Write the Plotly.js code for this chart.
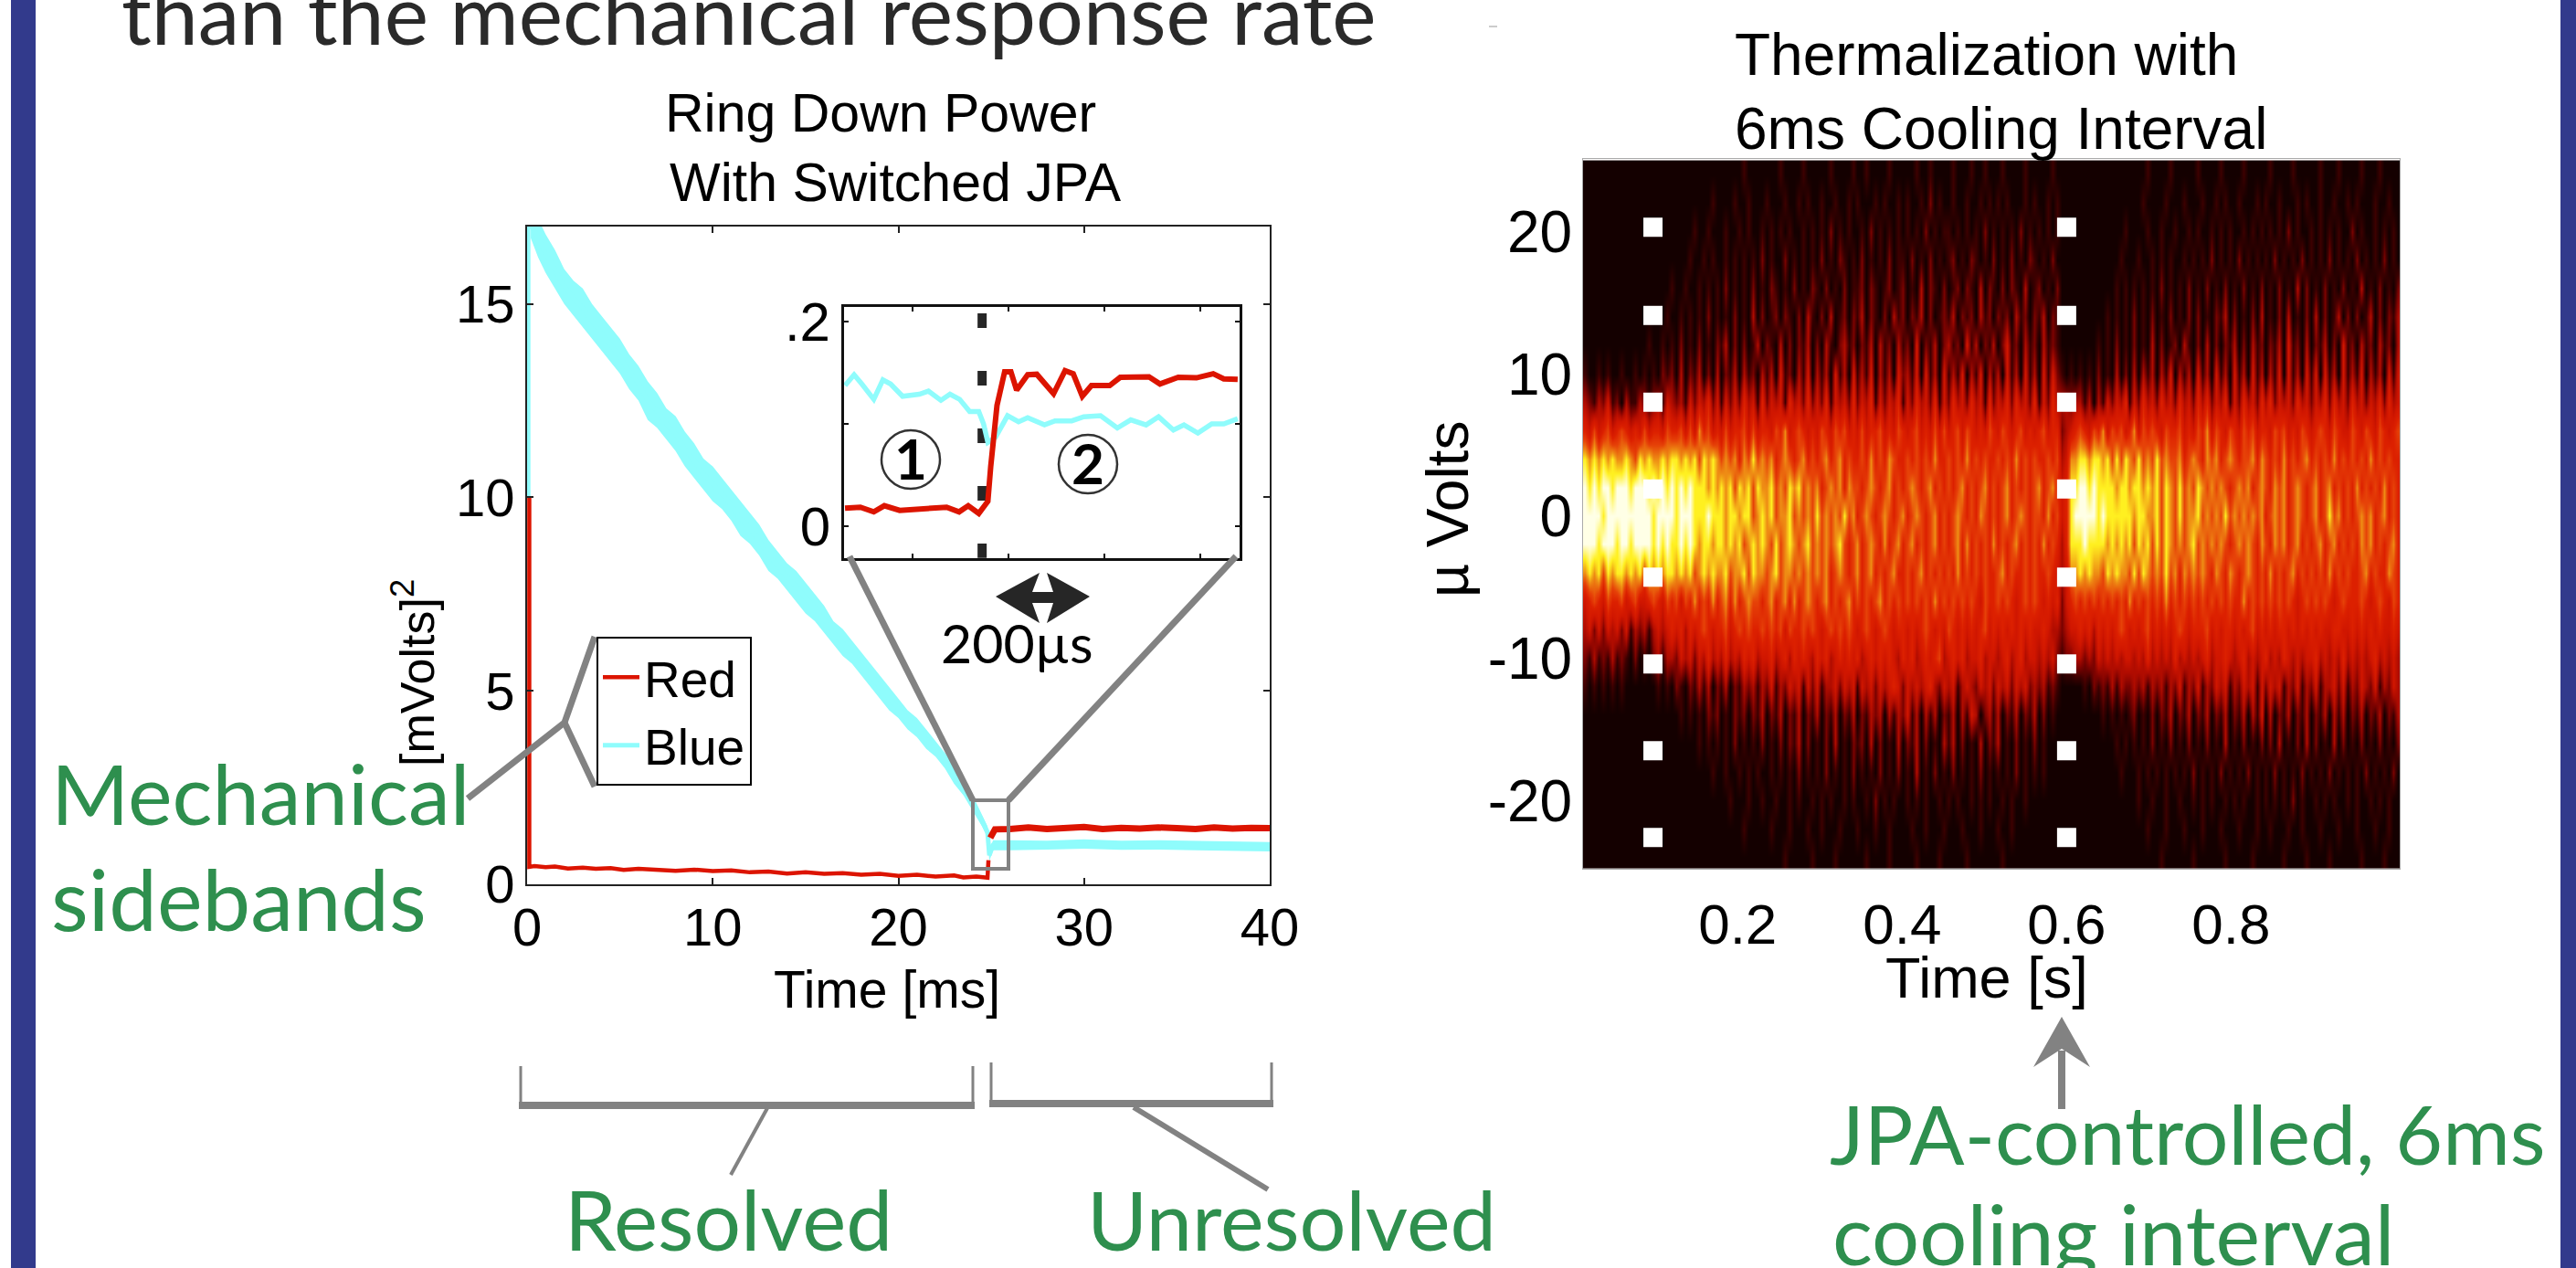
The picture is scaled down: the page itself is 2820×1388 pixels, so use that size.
<!DOCTYPE html>
<html><head><meta charset="utf-8">
<script src="https://cdn.plot.ly/plotly-3.0.1.min.js"></script>
<style>html,body{margin:0;padding:0;background:#fff}</style></head>
<body><div id="g" style="width:2820px;height:1388px"></div>
<script>
// ---- Ring-down main panel ----
const blueT=[0.2,0.6,1,1.5,2,2.5,3,3.5,4,4.5,5,5.5,6,6.5,7,7.5,8,8.5,9,9.5,10,10.5,11,11.5,12,12.5,13,13.5,14,14.5,15,15.5,16,16.5,17,17.5,18,18.5,19,19.5,20,20.5,21,21.5,22,22.5,23,23.5,24,24.5,24.8,24.9,25.1,26,28,30,32,34,36,38,40];
const blueLow=[16.7,16.2,15.8,15.4,15,14.7,14.4,14.1,13.8,13.5,13.2,12.8,12.5,12,11.8,11.5,11.2,10.8,10.5,10.2,9.9,9.7,9.4,9,8.8,8.5,8.1,7.9,7.6,7.3,7,6.8,6.5,6.2,5.9,5.7,5.4,5.1,4.8,4.5,4.3,4,3.8,3.5,3.3,3,2.6,2.3,1.9,1.5,1.2,0.6,0.88,0.88,0.9,0.92,0.89,0.9,0.88,0.87,0.85];
const blueHigh=[17.4,17.2,16.8,16.4,15.9,15.6,15.4,15,14.7,14.4,14.1,13.7,13.4,13,12.7,12.3,12.1,11.7,11.4,11,10.8,10.5,10.2,9.9,9.6,9.3,8.9,8.6,8.3,8.1,7.8,7.5,7.2,6.8,6.6,6.3,6,5.7,5.4,5.1,4.8,4.5,4.3,4,3.7,3.4,3.1,2.7,2.3,1.8,1.5,0.9,1.14,1.14,1.13,1.16,1.13,1.14,1.12,1.1,1.09];
const blueSpikeT=[0.06,0.06,0.3];
const blueSpikeV=[10,17,17];
const redT=[0.12,0.12,0.4,1,1.5,2.2,3,3.7,4.5,5.2,6,7,8,9,10,11,12,13,14,15,16,17,18,19,20,21,22,23,23.5,24.2,24.8,24.85];
const redV=[10,0.45,0.47,0.44,0.46,0.41,0.43,0.4,0.42,0.37,0.4,0.38,0.35,0.38,0.34,0.36,0.31,0.33,0.28,0.31,0.27,0.29,0.25,0.27,0.22,0.25,0.2,0.23,0.18,0.2,0.17,0.62];
const redLateT=[24.95,25.2,26,27,28,29,30,31,32,33,34,35,36,37,38,39,40];
const redLateV=[1.2,1.42,1.43,1.47,1.43,1.45,1.48,1.43,1.46,1.44,1.47,1.45,1.43,1.47,1.44,1.46,1.45];
const xTicksMain=[0,10,20,30,40];
const yTicksMain=[0,5,10,15];
// ---- Inset (time in microseconds across the inset) ----
const inBlueT=[2,21,37,62,81,97,122,157,176,202,221,241,262,281,291,300,316,329,341,364,383,418,440,475,500,535,570,598,630,656,687,709,738,767,792,821];
const inBlueV=[.1375,.148,.139,.124,.143,.139,.127,.129,.132,.123,.129,.124,.112,.112,.100,.082,.087,.097,.108,.102,.106,.099,.103,.103,.107,.108,.096,.104,.099,.107,.094,.099,.091,.100,.100,.105];
const inRedT=[2,34,62,84,116,157,214,240,259,281,300,306,313,319,335,348,360,383,402,437,461,478,497,516,554,576,636,659,697,735,770,792,821];
const inRedV=[.0176,.0185,.014,.020,.0155,.0164,.0185,.014,.020,.0125,.0244,.0586,.0884,.118,.151,.151,.133,.148,.1485,.1295,.152,.149,.127,.1375,.1375,.1455,.146,.139,.1455,.145,.149,.144,.1435];
const inSwitchT=[288,288];
const inSwitchV=[.208,-.031];
const inTickX=[143,343,543,743];
const inTickY=[0,.2];
const inTickText=['0','.2'];
const inMinorY=[.1];
// ---- Thermalization map: colour level 0-9 per time column, rows from +24 to -24 uV ----
const heatY=[24,22,20,18,16,14,12,10,8,6,4,2,0,-2,-4,-6,-8,-10,-12,-14,-16,-18,-20,-22,-24];
const heatRows=[
"0000000000 0000000000 0000000000 0000010000 0001000010 0000100001 0010000100 0001001000 0100010010 0010000100 0001000000 0000000000 0000100001 0000010000 1000010000 0100001000 0010001000 0100010000",
"0000000000 0000000000 0000000010 0001001000 1000100101 0010010010 1000101001 0100102010 0100100101 0101000101 0010100000 0000000000 0001000010 0010001001 0100100010 1001000101 0010010010 1000100100",
"0000000000 0000000000 0000100100 0100101001 0101010010 1010201010 0102010101 0101020101 1010101020 1010102010 1010100000 0000000001 0000100100 1001010010 1010010101 0101020100 1010101002 0100101010",
"0000000000 0000000000 0001001010 0101010102 0100201010 1020102101 0201010201 1020102010 1201021010 2010201021 0102000000 0000000010 0010010101 0010101020 1010201010 1020101020 1010201010 2010102010",
"0000000000 0000000001 0010010101 0201010201 0210102010 2102010201 1202101201 2010302102 0120210302 1020210301 2010200000 0000000101 0101010201 0102010201 0201020102 0102010302 0102010201 0301020102",
"0000000000 0000000010 0101010201 0102010302 0120210203 1020301202 1302102031 2021302012 1302120312 0212031202 1302100000 0000010101 0201020102 0102020102 1302010203 0102030102 0302013020 2013020213",
"0000000000 0000100101 0201020102 1302020130 2103020213 0203102312 0213031203 1204021302 3120413021 3024120312 0312100000 0001010201 0201030201 2031020302 0213020312 0213041203 0213020412 0312031203",
"1001010010 0101010212 0302130203 0213031203 1304120314 0313041304 1314031304 2314041304 1314031403 1304130413 0414210101 0102010302 0303130314 0313041304 1304130413 0314041304 1404130413 1403130414",
"3213241203 1132123143 2314243524 1424253415 2434153425 2425143425 2435142435 1425342514 2534253415 2435253425 1425333233 1303142435 1425342534 2534253524 3514253425 3524342534 2435253425 3424352534",
"5464564565 4546455465 5646475645 4645564645 5465745654 5465465645 4645564546 5456454646 4564654546 5465456454 5645523456 5465746564 5746565465 5645465746 5465465645 5465645465 4565465446 5465465456",
"8787878778 7687877878 8787868787 6767576867 6756765675 6567567565 5657565765 5656565755 6565756565 5656575656 5565634778 8788786868 7686768676 6756765767 5676566757 6565756567 5656575656 5657565655",
"9898998999 8999898989 8989888787 8786878687 7867687867 6756767576 6567656756 5676567565 6567565675 6567565656 7567545889 9898888788 7887878687 6867687676 7656767567 6576756765 6756756565 7565657565",
"9999899999 9999989999 8999888988 8788788678 7867786767 6867676867 5676567656 7567656756 5676565765 6567567656 6575645899 9998988888 8788778687 6867786767 6867676767 5676756765 6756867565 6767567565",
"9998999899 8999989898 8989878878 8787867878 7686787678 6767678656 7567657567 5675656756 5675756565 7565675656 5756535888 9888878787 8687868687 6767867676 7656767657 6576756756 5675675656 5767565675",
"7878687887 8786878788 7878678787 7867786877 6786776767 6767567656 7567565675 5656756565 6575656565 5675655656 5565434778 7877687877 6868767686 7576767657 6576567656 5756567565 6565756565 5675655765",
"4565465564 5644565465 6465756575 6757567665 6756757567 6567565675 6565675656 5656565756 5656565465 5656545656 5454524565 6565656565 7565656575 6565656565 6565575656 5656565456 5656545655 5654565465",
"3424243424 1323134345 4535456545 5645656556 5656465565 6545656565 4565456545 5454565454 6545454564 5454545454 4543323445 4535454565 4545645454 5654555645 4554545645 4545545454 5454455445 4545454454",
"2131213121 0201023133 2434243534 3534354534 4534535454 3545345454 5345454543 5453454563 4545344534 4345345344 3434212233 2324343434 4343534343 5343434534 4543453434 5343543434 4534343534 3434534343",
"1010101010 0000001010 2102131302 1302132313 2413243414 2413342434 1434243454 2434345324 3413432434 2434243423 2312100000 1021213132 2323132313 2413241324 3413243414 2434132413 2413342413 2432413243",
"0000000000 0000000000 0101010212 0102120213 0213021302 1302130213 0213230313 2413031302 1303143023 1302130213 0201000000 0000101010 1201020213 0213021302 1302130314 0302130213 0213031302 1302130213",
"0000000000 0000000000 0000010101 0102010102 0102021302 0102030102 1203020103 0213020103 1302010302 1301020102 0100000000 0000000101 0101020102 0102010201 0301020102 0203010203 0201030201 0201020102",
"0000000000 0000000000 0000000010 0100101010 0101010201 0102010102 0101020102 0103010201 0201010201 0101020101 0100000000 0000000010 0010101010 1010201010 2010102010 1020101020 1010201010 1020101020",
"0000000000 0000000000 0000000000 0010001001 0010010100 1010100101 0010201010 0101010010 1010010101 0010100100 0000000000 0000000000 0010010010 0100101010 0101010010 1010102010 0101010010 1001010100",
"0000000000 0000000000 0000000000 0000010000 0100010001 0010001000 1000100100 0010010001 0001000100 0100100000 0000000000 0000000000 0000100010 0010001000 1000100010 0100010010 0010001000 1000100100",
"0000000000 0000000000 0000000000 0000000000 0000100000 1000010000 0010000100 0001000010 0000100000 0010000000 0000000000 0000000000 0000000100 0000100000 0100000100 0000100001 0000100000 0100001000"];
const heatT0=0.012, heatDT=0.0055167;
const markerT=[0.097,0.6];
const markerV=[20.3,14.1,8,1.9,-4.3,-10.4,-16.5,-22.6];
const heatTickX=[0.2,0.4,0.6,0.8];
const heatTickY=[-20,-10,0,10,20];
const heatTickText=['-20','-10','0','10','20'];

const W=2820,H=1388,X=p=>p/W,Y=p=>1-p/H;
const GREEN='#2e8f4e',GRAY='#828282',SANS='"Liberation Sans",Arial,sans-serif',HUM='Lato,"Open Sans",sans-serif';
const z=heatRows.map(r=>r.replace(/ /g,'').split('').map(Number));
const heatX=z[0].map((_,i)=>heatT0+heatDT*(i+.5));
const mx=[],my=[];markerT.forEach(t=>markerV.forEach(v=>{mx.push(t);my.push(v)}));
const mid=blueLow.map((l,i)=>(l+blueHigh[i])/2);

const traces=[
 {x:blueT,y:blueLow,mode:'lines',line:{width:0,color:'#8ffcfc'},showlegend:false,hoverinfo:'skip'},
 {x:blueT,y:blueHigh,mode:'lines',line:{width:0,color:'#8ffcfc'},fill:'tonexty',fillcolor:'#8ffcfc',showlegend:false,hoverinfo:'skip'},
 {x:blueSpikeT.concat(blueT),y:blueSpikeV.concat(mid),mode:'lines',name:'Blue',line:{width:5,color:'#8ffcfc'}},
 {x:redLateT,y:redLateV,mode:'lines',line:{width:7,color:'#dc1400'},showlegend:false},
 {x:redT,y:redV,mode:'lines',name:'Red',line:{width:4.5,color:'#dc1400'}},
 {x:inSwitchT,y:inSwitchV,xaxis:'x2',yaxis:'y2',mode:'lines',line:{width:10,color:'#262626',dash:'16px,47px'},showlegend:false},
 {x:inBlueT,y:inBlueV,xaxis:'x2',yaxis:'y2',mode:'lines',line:{width:5.5,color:'#8ffcfc'},showlegend:false},
 {x:inRedT,y:inRedV,xaxis:'x2',yaxis:'y2',mode:'lines',line:{width:6,color:'#dc1400'},showlegend:false},
 {type:'heatmap',x:heatX,y:heatY,z:z,xaxis:'x3',yaxis:'y3',zmin:0,zmax:9,zsmooth:'best',showscale:false,
  colorscale:[[0,'#140000'],[.111,'#3c0000'],[.222,'#7a0200'],[.333,'#b00c00'],[.444,'#d01600'],[.556,'#dc2000'],[.667,'#e64208'],[.778,'#ee8c14'],[.889,'#fff020'],[1,'#ffffe6']]},
 {x:mx,y:my,xaxis:'x3',yaxis:'y3',mode:'markers',marker:{symbol:'square',size:21,color:'#fff'},showlegend:false}
];

function lbl(t,x,base,size,o={}){
 const font=o.font||SANS, d=o.descent===undefined?(font===SANS?.212:.2):o.descent;
 return {text:t,xref:'paper',yref:'paper',x:X(x),y:Y(base+d*size+1),xanchor:o.anchor||'center',yanchor:'bottom',
  showarrow:false,borderpad:0,font:{family:font,size:size,color:o.color||'#000',weight:o.weight||400}};
}
function rot(t,x,yc,size){
 return {text:t,xref:'paper',yref:'paper',x:X(x),y:Y(yc),xanchor:'center',yanchor:'middle',textangle:-90,
  showarrow:false,borderpad:0,font:{family:SANS,size:size,color:'#000'}};
}
const annotations=[
 lbl('than the mechanical response rate',132,50,91.5,{font:HUM,anchor:'left',color:'#2a2a2a'}),
 lbl('Ring Down Power',964,144,59),
 lbl('With Switched JPA',981,220,59),
 lbl('Thermalization with',2174,82,64),
 lbl('6ms Cooling Interval',2190,163,64),
 lbl('Time [ms]',971,1103,57),
 lbl('Time [s]',2175,1092,63),
 rot('[mVolts]<sup>2</sup>',453,737,52),
 rot('µ Volts',1585,558,64),
 lbl('200µs',1113,727,59,{font:HUM}),
 lbl('1',997,526,62,{font:HUM,weight:700}),
 lbl('2',1191,531,62,{font:HUM,weight:700}),
 lbl('Mechanical',55,905,92,{font:HUM,anchor:'left',color:GREEN}),
 lbl('sidebands',55,1020,94,{font:HUM,anchor:'left',color:GREEN}),
 lbl('Resolved',617,1370,91,{font:HUM,anchor:'left',color:GREEN}),
 lbl('Unresolved',1189,1370,90,{font:HUM,anchor:'left',color:GREEN}),
 lbl('JPA-controlled, 6ms',2002,1276,89.5,{font:HUM,anchor:'left',color:GREEN}),
 lbl('cooling interval',2005,1387,92,{font:HUM,anchor:'left',color:GREEN})
];

function seg(pts,w,c){ // decorative pixel-positioned polyline
 return {type:'path',xref:'paper',yref:'paper',path:'M'+pts.map(p=>X(p[0])+','+Y(p[1])).join('L'),line:{color:c||GRAY,width:w},layer:'above'};
}
function poly(pts,c){
 return {type:'path',xref:'paper',yref:'paper',path:'M'+pts.map(p=>X(p[0])+','+Y(p[1])).join('L')+'Z',fillcolor:c,line:{width:0},layer:'above'};
}
function rect(x0,y0,x1,y1,c){return {type:'rect',xref:'paper',yref:'paper',x0:X(x0),x1:X(x1),y0:Y(y0),y1:Y(y1),fillcolor:c,line:{width:0},layer:'above'};}
function circ(cx,cy,r){return {type:'circle',xref:'paper',yref:'paper',x0:X(cx-r),x1:X(cx+r),y0:Y(cy-r),y1:Y(cy+r),line:{color:'#333',width:2.5},layer:'above'};}
const shapes=[
 rect(12,0,39,1388,'#323a8c'),
 rect(2803,0,2820,1388,'#323a8c'),
 rect(1630,28,1639,30,'#cccccc'),
 seg([[512,874],[618,791],[651,697]],7),
 seg([[618,791],[651,861]],7),
 seg([[1065,876],[1104,876],[1104,951],[1065,951],[1065,876]],4),
 seg([[1065,876],[930,609]],7),
 seg([[1104,876],[1353,609]],7),
 poly([[1090,653],[1138,627],[1130,648],[1153,648],[1146,627],[1193,653],[1146,682],[1153,660],[1130,660],[1138,682]],'#262626'),
 seg([[570,1167],[570,1210],[1065,1210],[1065,1167]],3),
 rect(568,1206,1067,1214,GRAY),
 seg([[1085,1163],[1085,1208],[1392,1208],[1392,1163]],3),
 rect(1083,1204,1394,1212,GRAY),
 seg([[840,1213],[800,1286]],4),
 seg([[1241,1212],[1388,1302]],6),
 seg([[2257,1150],[2257,1214]],8),
 poly([[2257,1113],[2288,1168],[2257,1148],[2226,1168]],GRAY),
 circ(997,503,32),circ(1191,508,32)
];

const tf=s=>({family:SANS,size:s,color:'#000'});
const layout={
 width:W,height:H,autosize:false,margin:{l:0,r:0,t:0,b:0},paper_bgcolor:'#fff',plot_bgcolor:'#fff',hovermode:false,
 annotations,shapes,
 showlegend:true,
 legend:{x:X(653),y:Y(697),xanchor:'left',yanchor:'top',bgcolor:'#fff',bordercolor:'#000',borderwidth:2,traceorder:'reversed',itemwidth:40,font:{family:SANS,size:55,color:'#000'}},
 xaxis:{domain:[X(577),X(1390)],range:[0,40],tickvals:xTicksMain,ticks:'inside',ticklen:7,tickwidth:2,tickcolor:'#222',mirror:'allticks',showline:true,linecolor:'#222',linewidth:2,showgrid:false,zeroline:false,tickfont:tf(58),ticklabelstandoff:-5,anchor:'y'},
 yaxis:{domain:[Y(968),Y(248)],range:[0,17],tickvals:yTicksMain,ticks:'inside',ticklen:7,tickwidth:2,tickcolor:'#222',mirror:'allticks',showline:true,linecolor:'#222',linewidth:2,showgrid:false,zeroline:false,tickfont:tf(58),ticklabelstandoff:0,anchor:'x'},
 xaxis2:{domain:[X(924),X(1357)],range:[0,825],tickvals:inTickX,showticklabels:false,ticks:'inside',ticklen:5,tickwidth:2,tickcolor:'#111',mirror:'allticks',showline:true,linecolor:'#111',linewidth:3,showgrid:false,zeroline:false,anchor:'y2'},
 yaxis2:{domain:[Y(611),Y(336)],range:[-0.03125,0.2143],tickvals:inTickY,ticktext:inTickText,minor:{tickvals:inMinorY,ticks:'inside',ticklen:5,tickwidth:2,tickcolor:'#111',showgrid:false},ticks:'inside',ticklen:5,tickwidth:2,tickcolor:'#111',mirror:'allticks',showline:true,linecolor:'#111',linewidth:3,showgrid:false,zeroline:false,tickfont:tf(60),ticklabelstandoff:0,anchor:'x2'},
 xaxis3:{domain:[X(1733),X(2627)],range:[0.012,1.005],tickvals:heatTickX,ticktext:['0.2','0.4','0.6','0.8'],ticks:'',showline:true,linecolor:'#aaa',linewidth:1,mirror:true,showgrid:false,zeroline:false,tickfont:tf(62),ticklabelstandoff:7,anchor:'y3'},
 yaxis3:{domain:[Y(951),Y(174)],range:[-24.8,25.1],tickvals:heatTickY,ticktext:heatTickText,ticks:'',showline:true,linecolor:'#aaa',linewidth:1,mirror:true,showgrid:false,zeroline:false,tickfont:tf(64),ticklabelstandoff:-2,anchor:'x3'}
};
Plotly.newPlot('g',traces,layout,{displayModeBar:false,staticPlot:true});
</script></body></html>
